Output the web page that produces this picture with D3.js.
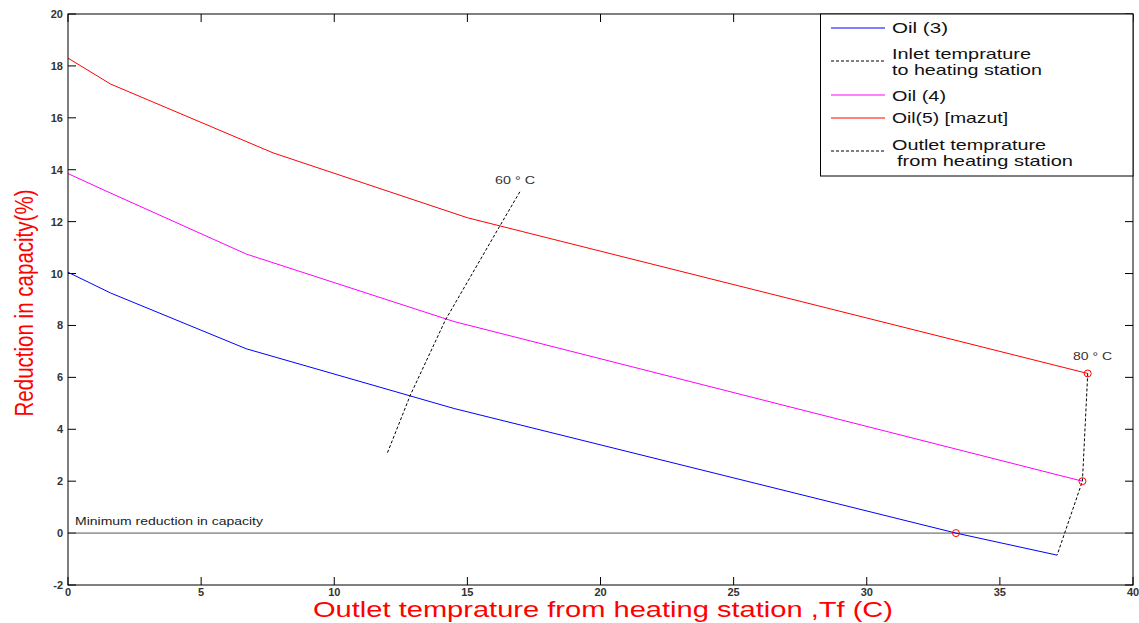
<!DOCTYPE html>
<html><head><meta charset="utf-8">
<script src="https://cdn.jsdelivr.net/npm/d3@7"></script>
<style>body{margin:0;background:#fff;} text{font-family:"Liberation Sans",Arial,sans-serif;}</style>
</head><body>
<svg id="c" width="1139" height="623"></svg>
<script>
const xTicks = [0,5,10,15,20,25,30,35,40];
const yTicks = [-2,0,2,4,6,8,10,12,14,16,18,20];
const oil3X = [0, 1.6, 6.7, 14.5, 33.35, 37.15];
const oil3Y = [10.05, 9.25, 7.1, 4.8, 0, -0.85];
const oil4X = [0, 1.6, 6.7, 14.5, 38.1];
const oil4Y = [13.85, 13.1, 10.75, 8.15, 2.0];
const oil5X = [0, 1.6, 7.7, 15.0, 38.3];
const oil5Y = [18.3, 17.3, 14.65, 12.15, 6.15];
const inletX = [12.0, 12.86, 14.17, 16.2, 17.0];
const inletY = [3.1, 5.32, 8.2, 11.8, 13.2];
const outletX = [38.3, 38.1, 37.15];
const outletY = [6.15, 2.0, -0.85];
const markX = [38.3, 38.1, 33.35];
const markY = [6.15, 2.0, 0];
const legendLabels = [["Oil (3)"],["Inlet temprature","to heating station"],["Oil (4)"],["Oil(5) [mazut]"],["Outlet temprature"," from heating station"]];

const svg = d3.select("#c");
const L=68,R=1133,T=14,B=585;
const x = d3.scaleLinear().domain([0,40]).range([L,R]);
const y = d3.scaleLinear().domain([-2,20]).range([B,T]);

const tl=8;
const g = svg.append("g");
xTicks.forEach(t=>{
  g.append("line").attr("x1",x(t)).attr("x2",x(t)).attr("y1",B).attr("y2",B-tl).attr("stroke","#000");
  g.append("line").attr("x1",x(t)).attr("x2",x(t)).attr("y1",T).attr("y2",T+tl).attr("stroke","#000");
  g.append("text").attr("x",x(t)).attr("y",B+11).attr("text-anchor","middle").attr("font-size",11).attr("font-weight","bold").attr("fill","#333").text(t);
});
yTicks.forEach(t=>{
  g.append("line").attr("x1",L).attr("x2",L+tl).attr("y1",y(t)).attr("y2",y(t)).attr("stroke","#000");
  g.append("line").attr("x1",R).attr("x2",R-tl).attr("y1",y(t)).attr("y2",y(t)).attr("stroke","#000");
  g.append("text").attr("x",L-5).attr("y",y(t)+4).attr("text-anchor","end").attr("font-size",11).attr("font-weight","bold").attr("fill","#333").text(t);
});

svg.append("line").attr("x1",L).attr("x2",R).attr("y1",y(0)).attr("y2",y(0)).attr("stroke","#555").attr("stroke-width",1);
svg.append("text").attr("x",75).attr("y",y(0)-8).attr("font-size",11).attr("fill","#222")
  .attr("textLength",188).attr("lengthAdjust","spacingAndGlyphs").text("Minimum reduction in capacity");

const line = d3.line().x(d=>x(d[0])).y(d=>y(d[1]));
const zip=(a,b)=>a.map((v,i)=>[v,b[i]]);
svg.append("path").attr("d",line(zip(oil3X,oil3Y))).attr("fill","none").attr("stroke","#0000ff").attr("stroke-width",1);
svg.append("path").attr("d",line(zip(oil4X,oil4Y))).attr("fill","none").attr("stroke","#ff00ff").attr("stroke-width",1);
svg.append("path").attr("d",line(zip(oil5X,oil5Y))).attr("fill","none").attr("stroke","#ff0000").attr("stroke-width",1);
svg.append("path").attr("d",line(zip(inletX,inletY))).attr("fill","none").attr("stroke","#000").attr("stroke-width",1).attr("stroke-dasharray","3,2");
svg.append("path").attr("d",line(zip(outletX,outletY))).attr("fill","none").attr("stroke","#000").attr("stroke-width",1).attr("stroke-dasharray","3,2");
markX.forEach((mx,i)=>{
  svg.append("circle").attr("cx",x(mx)).attr("cy",y(markY[i])).attr("r",3.5).attr("fill","none").attr("stroke","#ff0000").attr("stroke-width",1);
});
svg.append("text").attr("x",495).attr("y",184).attr("font-size",11).attr("fill","#333").attr("textLength",40).attr("lengthAdjust","spacingAndGlyphs").text("60 ° C");
svg.append("text").attr("x",1073).attr("y",360).attr("font-size",11).attr("fill","#333").attr("textLength",39).attr("lengthAdjust","spacingAndGlyphs").text("80 ° C");

svg.append("rect").attr("x",L).attr("y",T).attr("width",R-L).attr("height",B-T).attr("fill","none").attr("stroke","#000").attr("stroke-width",1);

// legend
const lg = svg.append("g");
lg.append("rect").attr("x",820.5).attr("y",T).attr("width",R-820.5).attr("height",162).attr("fill","#fff").attr("stroke","#000");
const legStyles = [{c:"#0000ff",d:null,ly:28},{c:"#000",d:"3,2",ly:61},{c:"#ff00ff",d:null,ly:95},{c:"#ff0000",d:null,ly:118},{c:"#000",d:"3,2",ly:151}];
const textYs = [[33],[59,75],[101],[123],[150,166]];
const textWs = [[56],[139,150],[54],[116],[154,176]];
const textXs = [[892],[892,892],[892],[892],[892,897]];
legStyles.forEach((s,i)=>{
  const l=lg.append("line").attr("x1",831).attr("x2",885).attr("y1",s.ly).attr("y2",s.ly).attr("stroke",s.c).attr("stroke-width",1);
  if(s.d) l.attr("stroke-dasharray",s.d);
  legendLabels[i].forEach((t,j)=>{
    lg.append("text").attr("x",textXs[i][j]).attr("y",textYs[i][j]).attr("font-size",15).attr("fill","#111")
      .attr("textLength",textWs[i][j]).attr("lengthAdjust","spacingAndGlyphs").text(t.trim());
  });
});

svg.append("text").attr("x",603).attr("y",617).attr("text-anchor","middle").attr("font-size",22).attr("fill","#ff0000")
  .attr("textLength",580).attr("lengthAdjust","spacingAndGlyphs").text("Outlet temprature from heating station ,Tf (C)");
svg.append("text").attr("transform","translate(33,303) rotate(-90)").attr("text-anchor","middle").attr("font-size",26).attr("fill","#ff0000")
  .attr("textLength",227).attr("lengthAdjust","spacingAndGlyphs").text("Reduction in capacity(%)");
</script>
</body></html>
